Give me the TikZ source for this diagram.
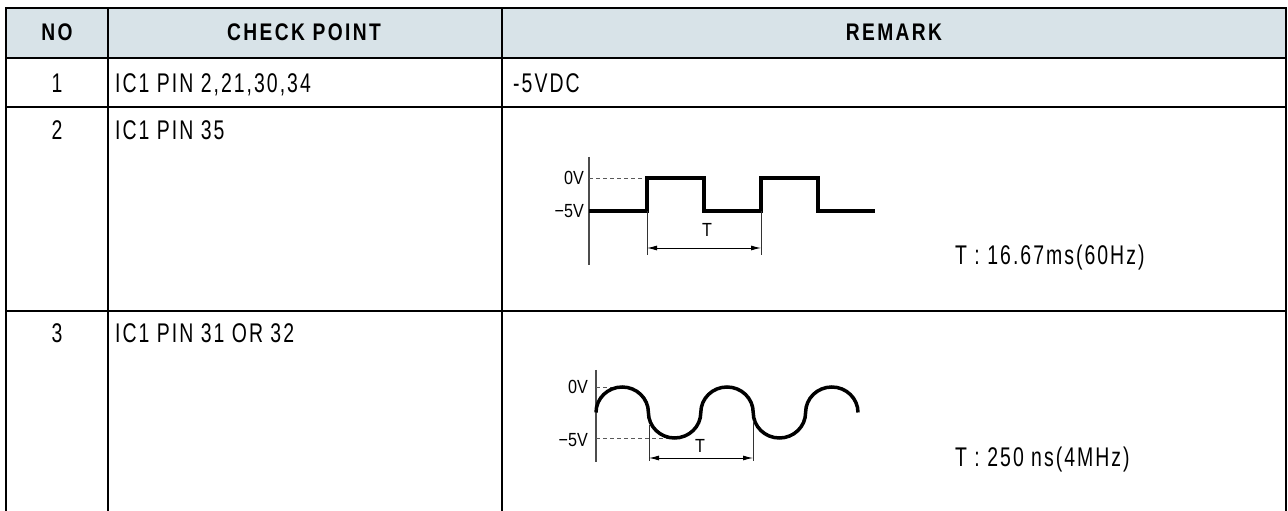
\documentclass[tikz,border=0pt]{standalone}
\usepackage{fontspec}
\setmainfont{Liberation Sans}[FakeStretch=0.72,LetterSpace=7.5]
\newfontfamily\hdfont{Liberation Sans}[FakeStretch=0.8,LetterSpace=10]
\newfontfamily\lblfont{Liberation Sans}[FakeStretch=0.85]
\usetikzlibrary{arrows.meta}
\definecolor{hdrfill}{RGB}{216,227,232}
\begin{document}
\begin{tikzpicture}[x=1pt,y=1pt,
 grid/.style={line width=2.5pt, line join=miter},
 hdr/.style={font=\hdfont\bfseries\fontsize{24}{26}\selectfont, inner sep=0pt, anchor=base},
 cell/.style={font=\fontsize{27}{29}\selectfont, inner sep=0pt, anchor=base west},
 num/.style={font=\fontsize{27}{29}\selectfont, inner sep=0pt, anchor=base},
 lbl/.style={font=\lblfont\fontsize{19}{21}\selectfont, inner sep=0pt, anchor=east},
 axisline/.style={line width=1.1pt, black!70},
 wave/.style={line width=3.5pt, line join=miter},
 guide/.style={line width=0.9pt, black!65, dash pattern=on 4pt off 3pt},
 tickline/.style={line width=0.9pt, black!80},
 dim/.style={line width=0.9pt, {Latex[length=10pt,width=5pt]}-{Latex[length=10pt,width=5pt]}}
]
\useasboundingbox (0,0) rectangle (1288,511);
% header background
\fill[hdrfill] (6,453) rectangle (1286,503);
% grid
\draw[grid] (6,0) -- (6,503) -- (1286,503) -- (1286,0);
\draw[grid] (6,453) -- (1286,453);
\draw[grid] (6,404) -- (1286,404);
\draw[grid] (6,200) -- (1286,200);
\draw[grid] (108,0) -- (108,503);
\draw[grid] (502,0) -- (502,503);
% header text
\node[hdr] (hno) at (57,470) {NO};
\node[hdr] (hcp) at (304,470) {CHECK POINT};
\node[hdr] (hrm) at (894,470) {REMARK};
% row 1
\node[num] (n1) at (57,418) {1};
\node[cell] (c1) at (115,418) {IC1 PIN 2,21,30,34};
\node[cell] (r1) at (513,418) {-5VDC};
% row 2
\node[num] (n2) at (57,371) {2};
\node[cell] (c2) at (115,371) {IC1 PIN 35};
\node[cell] (r2) at (955,246) {T : 16.67ms(60Hz)};
% row 3
\node[num] (n3) at (57,168) {3};
\node[cell] (c3) at (115,168) {IC1 PIN 31 OR 32};
\node[cell] (r3) at (955,44) {T : 250 ns(4MHz)};
% square wave
\draw[axisline] (589,354) -- (589,246);
\draw[guide] (589,333) -- (647,333);
\node[lbl] (sq0) at (584,333) {0V};
\node[lbl] (sq5) at (584,300) {−5V};
\draw[wave] (589,300) -- (647,300) -- (647,333) -- (704,333) -- (704,300) -- (761,300) -- (761,333) -- (818,333) -- (818,300) -- (875,300);
\coordinate (sqa) at (647,263);
\coordinate (sqb) at (761,263);
\draw[tickline] (647,300) -- (647,256);
\draw[tickline] (761,300) -- (761,256);
\draw[dim] (sqa) -- (sqb);
\node[lbl, anchor=center] (sqT) at (707,281) {T};
% sine wave
\draw[axisline] (596,141) -- (596,49);
\draw[guide] (596,124) -- (612,124);
\draw[guide] (596,73) -- (672,73);
\node[lbl] (sn0) at (588,124) {0V};
\node[lbl] (sn5) at (588,71) {−5V};
\draw[wave] (596,98.5) arc[start angle=180,end angle=0,x radius=26.2,y radius=25.5]
  arc[start angle=180,end angle=360,x radius=26.2,y radius=25.5]
  arc[start angle=180,end angle=0,x radius=26.2,y radius=25.5]
  arc[start angle=180,end angle=360,x radius=26.2,y radius=25.5]
  arc[start angle=180,end angle=0,x radius=26.2,y radius=25.5];
\coordinate (sna) at (649,53);
\coordinate (snb) at (753,53);
\draw[tickline] (649,86) -- (649,50);
\draw[tickline] (753,90) -- (753,50);
\draw[dim] (sna) -- (snb);
\node[lbl, anchor=center] (snT) at (700,65) {T};
\end{tikzpicture}
\end{document}
